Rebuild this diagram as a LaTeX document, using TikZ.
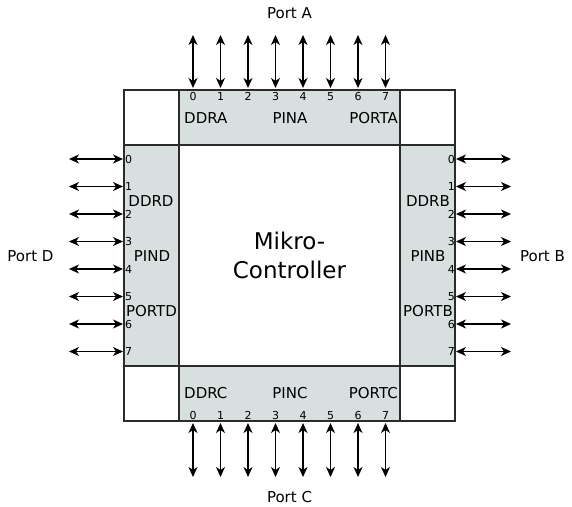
\documentclass[tikz,border=0pt]{standalone}
\usepackage{fontspec}
\setmainfont{DejaVu Sans}
\usetikzlibrary{arrows.meta}
\definecolor{bandgray}{HTML}{D8DFDF}
\definecolor{edgegray}{HTML}{2B2B2B}
\tikzset{
  chipedge/.style={draw=edgegray,line width=1.3pt},
  band/.style={chipedge,fill=bandgray},
  pinarrow/.style={{Stealth[length=10pt,width=9pt,inset=3pt]}-{Stealth[length=10pt,width=9pt,inset=3pt]},line width=1.3pt},
  pinnum/.style={inner sep=0pt,text height=8pt,text depth=0pt,font=\fontsize{11}{13}\selectfont},
  regname/.style={inner sep=0pt,text height=11pt,text depth=0pt,font=\fontsize{15}{18}\selectfont},
  portname/.style={inner sep=0pt,text height=11pt,text depth=0pt,font=\fontsize{15}{18}\selectfont}
}
\begin{document}
\begin{tikzpicture}[x=1pt,y=-1pt]
  \useasboundingbox (0,0) rectangle (572,506);
  % chip body and register bands
  \draw[chipedge,fill=white] (124,90) rectangle (455,421);
  \draw[band] (179,90) rectangle (400,145);
  \draw[band] (179,366) rectangle (400,421);
  \draw[band] (124,145) rectangle (179,366);
  \draw[band] (400,145) rectangle (455,366);
  \node[align=center,font=\fontsize{23}{29}\selectfont] (mcu) at (289.5,255.5) {Mikro-\\Controller};
  % pins
  \foreach \i [evaluate=\i as \p using 193+27.5*\i,
               evaluate=\i as \q using 159+27.5*\i] in {0,...,7} {
    \node[pinnum] (na\i) at (\p,96.5) {\i};
    \node[pinnum] (nc\i) at (\p,415) {\i};
    \node[pinnum,anchor=west] (nd\i) at (125,\q) {\i};
    \node[pinnum,anchor=east] (nb\i) at (455,\q) {\i};
    \coordinate (ta\i) at (\p,35);  \coordinate (ba\i) at (\p,88);
    \coordinate (tc\i) at (\p,423); \coordinate (bc\i) at (\p,477);
    \coordinate (ld\i) at (69,\q);  \coordinate (rd\i) at (123,\q);
    \coordinate (lb\i) at (456,\q); \coordinate (rb\i) at (511,\q);
    \draw[pinarrow] (ta\i) -- (ba\i);
    \draw[pinarrow] (tc\i) -- (bc\i);
    \draw[pinarrow] (ld\i) -- (rd\i);
    \draw[pinarrow] (lb\i) -- (rb\i);
  }
  % register names
  \node[regname,anchor=west] (ddra) at (184,118) {DDRA};
  \node[regname] (pina) at (290,118) {PINA};
  \node[regname,anchor=east] (porta) at (398,118) {PORTA};
  \node[regname,anchor=west] (ddrc) at (184,393) {DDRC};
  \node[regname] (pinc) at (290,393) {PINC};
  \node[regname,anchor=east] (portc) at (398,393) {PORTC};
  \node[regname] (ddrd) at (151,201) {DDRD};
  \node[regname] (pind) at (152,256) {PIND};
  \node[regname] (portd) at (151.5,311) {PORTD};
  \node[regname] (ddrb) at (428,201) {DDRB};
  \node[regname] (pinb) at (428,256) {PINB};
  \node[regname] (portb) at (428,311) {PORTB};
  % port names
  \node[portname] (porta-lbl) at (289.5,12.5) {Port A};
  \node[portname] (portc-lbl) at (289.5,496.5) {Port C};
  \node[portname] (portd-lbl) at (30.5,256) {Port D};
  \node[portname] (portb-lbl) at (542.5,256) {Port B};
\end{tikzpicture}
\end{document}
